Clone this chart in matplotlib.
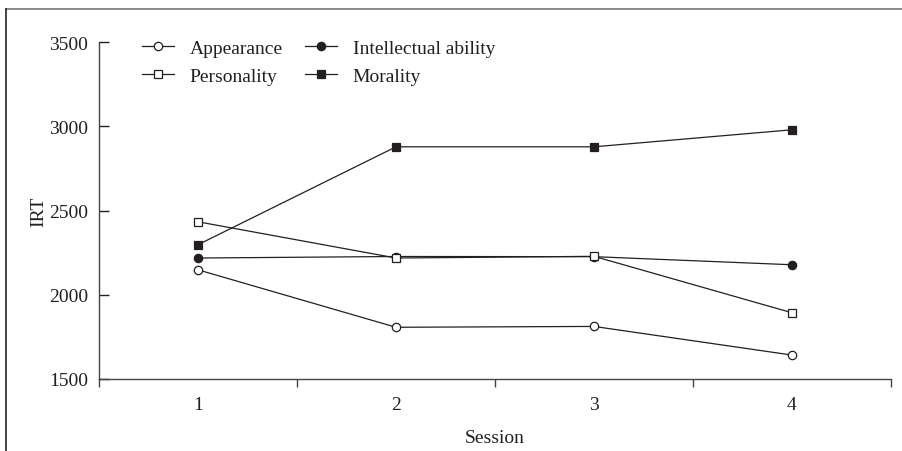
import matplotlib
matplotlib.use("Agg")
import matplotlib.pyplot as plt
from matplotlib.lines import Line2D

plt.rcParams['font.family'] = ['Liberation Serif', 'DejaVu Serif']

sessions = [1, 2, 3, 4]
appearance = [2148, 1807, 1812, 1642]
intellectual = [2218, 2227, 2226, 2178]
personality = [2433, 2218, 2228, 1893]
morality = [2297, 2878, 2878, 2979]
yticks = [1500, 2000, 2500, 3000, 3500]

fig = plt.figure(figsize=(9.03, 4.52), dpi=100)
ax = fig.add_axes([99/903, 1-380/452, (891-99)/903, (380-43)/452])

c = '#231f20'
lw = 0.9
fs = 14
h1, = ax.plot(sessions, appearance, color=c, lw=lw, marker='o', ms=6, mfc='white', mec=c, mew=0.9, label='Appearance')
h2, = ax.plot(sessions, intellectual, color=c, lw=lw, marker='o', ms=6, mfc=c, mec=c, mew=0.9, label='Intellectual ability')
h3, = ax.plot(sessions, personality, color=c, lw=lw, marker='s', ms=5.5, mfc='white', mec=c, mew=0.9, label='Personality')
h4, = ax.plot(sessions, morality, color=c, lw=lw, marker='s', ms=5.5, mfc=c, mec=c, mew=0.9, label='Morality')

ax.set_xlim(0.5, 4.5)
ax.set_ylim(1500, 3500)
ax.set_yticks(yticks)
ax.set_xticks(sessions)
ax.set_xticks([0.5, 1.5, 2.5, 3.5, 4.5], minor=True)
ax.tick_params(axis='x', which='major', length=0, pad=12, labelsize=fs, colors=c)
ax.tick_params(axis='x', which='minor', length=6, direction='out', width=1, color='#444')
ax.tick_params(axis='y', which='major', length=7, direction='in', width=1, pad=8, labelsize=fs, colors=c)
for s in ['top', 'right']:
    ax.spines[s].set_visible(False)
for s in ['left', 'bottom']:
    ax.spines[s].set_color('#444')
    ax.spines[s].set_linewidth(1)

ax.set_ylabel('IRT', fontsize=fs, color=c, labelpad=1)
ax.set_xlabel('Session', fontsize=fs, color=c, labelpad=11.5)

leg = ax.legend(handles=[h1, h3, h2, h4], ncol=2, loc='upper left',
                bbox_to_anchor=(0.032, 1.061), frameon=False, fontsize=fs,
                handlelength=1.65, handletextpad=0.8, columnspacing=1.15,
                labelspacing=0.55)
for t in leg.get_texts():
    t.set_color(c)

fig.add_artist(Line2D([6/903, 1], [1-10/452, 1-10/452], color='#777', lw=1.2, transform=fig.transFigure))
fig.add_artist(Line2D([6/903, 6/903], [0, 1-10/452], color='#222', lw=1.2, transform=fig.transFigure))

fig.savefig('out.png', dpi=100)
